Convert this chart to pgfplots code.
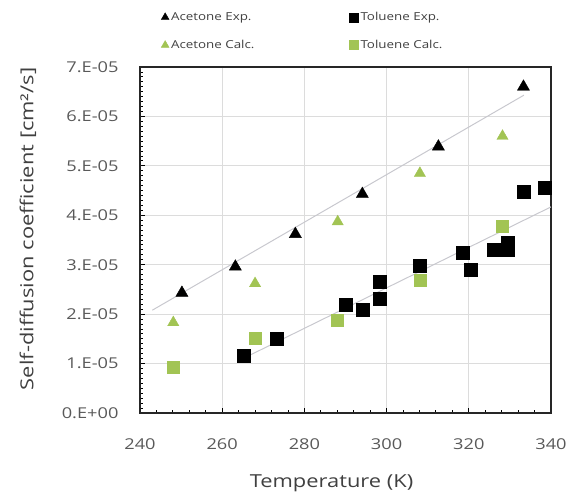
\documentclass[border=0pt]{standalone}
\usepackage{pgfplots}
\pgfplotsset{compat=1.18}
\usepackage{fontspec}
\setmainfont[FakeStretch=1.22]{Open Sans}
\definecolor{calcgreen}{RGB}{162,196,84}
\definecolor{ticktext}{RGB}{89,89,89}
\definecolor{labeltext}{RGB}{64,64,64}
\definecolor{gridgray}{RGB}{220,220,220}
\definecolor{trendgray}{RGB}{200,200,206}

\begin{document}
\begin{tikzpicture}
\begin{axis}[
  at={(0,0)}, anchor=south west,
  scale only axis, width=411bp, height=346bp,
  xmin=240, xmax=340, ymin=0, ymax=7e-5,
  xtick={240,260,...,340},
  ytick={0,1e-5,2e-5,3e-5,4e-5,5e-5,6e-5,7e-5},
  yticklabels={0.E+00,1.E-05,2.E-05,3.E-05,4.E-05,5.E-05,6.E-05,7.E-05},
  scaled y ticks=false,
  /pgf/number format/assume math mode=true,
  minor x tick num=4, minor y tick num=9,
  tick pos=left,
  major tick length=5bp, minor tick length=3bp,
  tick style={black, line width=0.9pt},
  grid=major,
  major grid style={gridgray, line width=1pt},
  axis line style={black!85, line width=1.6pt},
  ticklabel style={font=\fontsize{15}{17}\selectfont, color=ticktext},
  yticklabel style={xshift=-18bp},
  xticklabel style={yshift=-22bp},
  xlabel={Temperature (K)},
  ylabel={Self-diffusion coefficient [cm²/s]},
  label style={font=\fontsize{18}{20}\selectfont, color=labeltext},
  xlabel style={at={(axis description cs:0.466,-0.202)}, anchor=center},
  ylabel style={at={(axis description cs:-0.2725,0.532)}, anchor=center},
  legend columns=2,
  legend cell align=left,
  legend image post style={mark size=4.5bp},
  legend style={draw=none, fill=none, at={(0.044,1.17)}, anchor=north west,
    font=\fontsize{11}{13}\selectfont, text=labeltext, row sep=14bp,
    /tikz/every even column/.append style={column sep=93bp}},
]
% trendlines
\addplot[trendgray, line width=1pt, forget plot] coordinates {(243,2.08e-5) (333.4,6.43e-5)};
\addplot[trendgray, line width=1pt, forget plot] coordinates {(266,1.14e-5) (340,4.17e-5)};

\addplot[only marks, mark=triangle*, mark size=7bp, black] coordinates {
(250.2,2.43e-5) (263.2,2.96e-5) (277.8,3.62e-5) (294.1,4.43e-5) (312.6,5.39e-5) (333.3,6.60e-5)
};
\addlegendentry{Acetone Exp.}

\addplot[only marks, mark=square*, mark size=6.5bp, black] coordinates {
(265.2,1.15e-5) (273.3,1.51e-5) (290.0,2.20e-5) (294.1,2.10e-5) (298.4,2.31e-5) (298.4,2.66e-5)
(308.1,2.98e-5) (318.5,3.25e-5) (320.5,2.89e-5) (326.0,3.31e-5) (329.4,3.30e-5) (329.4,3.45e-5)
(333.3,4.48e-5) (338.4,4.55e-5)
};
\addlegendentry{Toluene Exp.}

\addplot[only marks, mark=triangle*, mark size=6.5bp, calcgreen] coordinates {
(248.1,1.83e-5) (268.0,2.62e-5) (288.1,3.87e-5) (308.1,4.85e-5) (328.2,5.60e-5)
};
\addlegendentry{Acetone Calc.}

\addplot[only marks, mark=square*, mark size=6bp, calcgreen] coordinates {
(248.1,0.92e-5) (268.0,1.51e-5) (288.0,1.87e-5) (308.1,2.69e-5) (328.2,3.77e-5)
};
\addlegendentry{Toluene Calc.}
\end{axis}
\pgfresetboundingbox
\path (-140bp,-80bp) rectangle (430bp,413bp);
\end{tikzpicture}
\end{document}
